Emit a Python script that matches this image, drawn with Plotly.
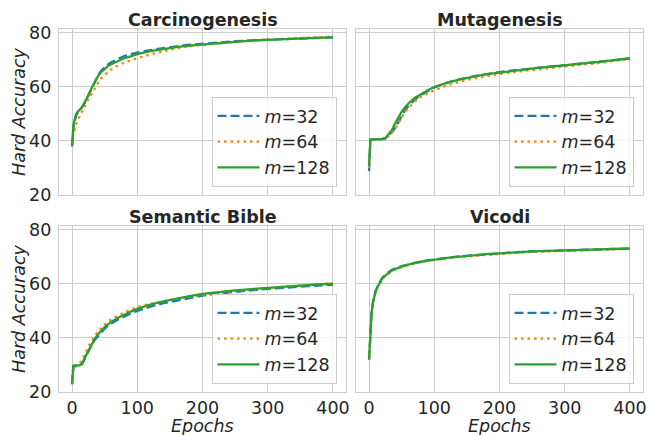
import plotly.graph_objects as go

epochs = [0, 1, 2, 3, 4, 6, 8, 10, 13, 16, 20, 25, 30, 35, 40, 45, 50, 55, 60, 70, 80, 90,
          100, 120, 140, 160, 180, 200, 225, 250, 275, 300, 325, 350, 375, 400]

titles = ["Carcinogenesis", "Mutagenesis", "Semantic Bible", "Vicodi"]
series_names = ["<i>m</i>=32", "<i>m</i>=64", "<i>m</i>=128"]
x_ticks = [0, 100, 200, 300, 400]
y_ticks = [20, 40, 60, 80]

carc_m32 = [38.0, 43.0, 44.5, 46.0, 47.3, 49.0, 50.2, 50.8, 51.6, 52.6, 54.3, 56.8, 59.5, 62.2, 64.3, 66.0,
            67.3, 68.2, 69.0, 70.3, 71.3, 72.0, 72.6, 73.5, 74.3, 74.9, 75.5, 75.9, 76.3, 76.8, 77.1, 77.4,
            77.6, 77.8, 78.0, 78.2]
carc_m64 = [39.0, 42.0, 42.8, 43.3, 44.5, 46.0, 47.3, 48.3, 49.6, 51.2, 53.0, 55.5, 57.3, 59.5, 61.5, 63.2,
            64.5, 65.5, 66.3, 67.8, 68.9, 69.8, 70.5, 71.9, 73.0, 74.2, 75.0, 75.5, 76.1, 76.6, 77.1, 77.4,
            77.7, 78.0, 78.2, 78.5]
carc_m128 = [38.0, 43.5, 45.5, 47.0, 48.2, 49.8, 50.6, 51.0, 51.8, 52.8, 54.5, 56.8, 59.5, 62.0, 64.0, 65.5,
             66.7, 67.6, 68.3, 69.5, 70.5, 71.2, 72.0, 73.1, 73.9, 74.6, 75.2, 75.6, 76.1, 76.6, 77.0, 77.3,
             77.6, 77.8, 78.0, 78.2]

muta_m32 = [28.8, 40.3, 40.4, 40.4, 40.4, 40.4, 40.4, 40.4, 40.5, 40.5, 40.6, 40.9, 42.0, 43.3, 44.8, 47.0,
            49.2, 51.3, 52.8, 55.2, 57.0, 58.5, 59.7, 61.5, 62.8, 63.8, 64.7, 65.4, 66.1, 66.8, 67.4, 67.9,
            68.5, 69.1, 69.7, 70.4]
muta_m64 = [30.0, 40.4, 40.4, 40.4, 40.4, 40.4, 40.4, 40.4, 40.5, 40.5, 40.6, 40.7, 41.8, 42.8, 44.5, 46.5,
            48.7, 50.6, 52.0, 54.5, 56.3, 57.6, 58.7, 60.5, 61.9, 63.0, 63.9, 64.7, 65.5, 66.2, 66.8, 67.5,
            68.1, 68.7, 69.4, 70.2]
muta_m128 = [30.7, 40.5, 40.5, 40.5, 40.5, 40.5, 40.5, 40.5, 40.6, 40.6, 40.7, 41.0, 42.5, 44.0, 46.5, 48.8,
             50.8, 52.3, 53.7, 55.8, 57.3, 58.7, 59.9, 61.5, 62.7, 63.7, 64.6, 65.2, 66.0, 66.7, 67.3, 67.8,
             68.5, 69.1, 69.7, 70.5]

sem_m32 = [22.8, 29.5, 29.5, 29.5, 29.5, 29.5, 29.5, 29.6, 29.8, 30.5, 32.5, 35.0, 37.3, 39.3, 40.8, 42.2,
           43.4, 44.4, 45.3, 46.7, 47.9, 49.0, 49.9, 51.5, 52.8, 53.8, 54.8, 55.6, 56.4, 57.0, 57.6, 58.1,
           58.5, 58.9, 59.3, 59.6]
sem_m64 = [23.0, 29.8, 29.8, 29.8, 29.8, 29.8, 29.8, 30.0, 31.0, 32.3, 34.0, 36.8, 39.0, 40.8, 42.3, 43.7,
           44.9, 46.0, 46.8, 48.2, 49.4, 50.5, 51.4, 52.6, 53.6, 54.5, 55.2, 55.9, 56.6, 57.3, 57.9, 58.4,
           58.9, 59.3, 59.7, 60.1]
sem_m128 = [23.0, 29.7, 29.7, 29.7, 29.7, 29.7, 29.7, 29.8, 30.0, 30.8, 32.8, 35.3, 37.8, 39.7, 41.3, 42.8,
            44.0, 45.0, 45.9, 47.3, 48.6, 49.7, 50.7, 52.3, 53.5, 54.5, 55.4, 56.2, 56.9, 57.5, 58.0, 58.5,
            58.9, 59.3, 59.7, 60.0]

vic_m32 = [32.0, 36.8, 42.3, 46.8, 49.8, 53.3, 55.8, 57.3, 59.0, 60.5, 62.0, 63.3, 64.3, 65.1, 65.6, 66.1,
           66.5, 66.8, 67.1, 67.7, 68.2, 68.6, 69.0, 69.6, 70.1, 70.5, 70.9, 71.2, 71.6, 71.9, 72.1, 72.3,
           72.5, 72.7, 72.8, 73.0]
vic_m64 = [31.8, 36.3, 41.8, 46.3, 49.3, 52.8, 55.3, 56.8, 58.6, 60.1, 61.6, 62.9, 63.9, 64.7, 65.3, 65.8,
           66.2, 66.6, 66.9, 67.5, 68.0, 68.4, 68.8, 69.4, 69.9, 70.3, 70.7, 71.0, 71.4, 71.7, 71.9, 72.1,
           72.3, 72.5, 72.7, 72.9]
vic_m128 = [32.0, 36.5, 42.0, 46.5, 49.5, 53.0, 55.5, 57.0, 58.8, 60.3, 61.8, 63.0, 64.0, 64.8, 65.4, 65.9,
            66.3, 66.7, 67.0, 67.6, 68.1, 68.5, 68.9, 69.5, 70.0, 70.5, 70.9, 71.2, 71.6, 71.9, 72.1, 72.3,
            72.5, 72.7, 72.8, 73.0]

panels = [
    [carc_m32, carc_m64, carc_m128],
    [muta_m32, muta_m64, muta_m128],
    [sem_m32, sem_m64, sem_m128],
    [vic_m32, vic_m64, vic_m128],
]

colors = ["#1f77b4", "#ff7f0e", "#2ca02c"]
dashes = ["9px,4px", "2.5px,4px", "solid"]

W, H = 649, 435
FONT = "DejaVu Sans"
FS = 17.5
TXT = "#262626"
GRID = "#cccccc"

# panel pixel boxes (left, right, top, bottom)
cols_px = [(59, 346), (356, 643)]
rows_px = [(29, 195), (226, 392)]

fig = go.Figure()
legend_ids = ["legend", "legend2", "legend3", "legend4"]
layout = {}
annotations = []

for i, vals in enumerate(panels):
    r, c = i // 2, i % 2
    k = i + 1
    xa = "x" if k == 1 else f"x{k}"
    ya = "y" if k == 1 else f"y{k}"
    xl, xr = cols_px[c]
    yt, yb = rows_px[r]
    for j, ys in enumerate(vals):
        fig.add_trace(go.Scatter(
            x=epochs, y=ys, mode="lines", name=series_names[j],
            line=dict(color=colors[j], width=2.3, dash=dashes[j]),
            xaxis=xa, yaxis=ya, legend=legend_ids[i],
        ))
    axis_common = dict(showgrid=True, gridcolor=GRID, gridwidth=1, zeroline=False,
                       showline=True, linecolor=GRID, linewidth=1.25, mirror=True,
                       ticks="", automargin=False,
                       tickfont=dict(family=FONT, size=FS, color=TXT))
    layout["xaxis" if k == 1 else f"xaxis{k}"] = dict(
        domain=[xl / W, xr / W], anchor=ya, range=[-20, 420], tickvals=x_ticks,
        showticklabels=(r == 1), ticklabelstandoff=0, **axis_common)
    layout["yaxis" if k == 1 else f"yaxis{k}"] = dict(
        domain=[(H - yb) / H, (H - yt) / H], anchor=xa, range=[20, 81.3], tickvals=y_ticks,
        showticklabels=(c == 0), ticklabelstandoff=3, **axis_common)
    # legend in lower right of panel
    layout[legend_ids[i]] = dict(
        x=(xr - 9.5) / W, y=(H - yb + 8) / H, xanchor="right", yanchor="bottom",
        xref="paper", yref="paper",
        bgcolor="rgba(255,255,255,0.8)", bordercolor=GRID, borderwidth=1,
        font=dict(family=FONT, size=FS, color=TXT), tracegroupgap=0, itemwidth=42,
    )
    # subplot title
    annotations.append(dict(text=f"<b>{titles[i]}</b>", x=(xl + xr) / 2 / W, y=(H - (yt - 9)) / H,
                            xref="paper", yref="paper", xanchor="center", yanchor="middle",
                            showarrow=False, font=dict(family=FONT, size=FS, color=TXT)))
    if c == 0:
        annotations.append(dict(text="<i>Hard Accuracy</i>", x=19 / W, y=(H - (yt + yb) / 2) / H,
                                xref="paper", yref="paper", xanchor="center", yanchor="middle",
                                textangle=-90, showarrow=False,
                                font=dict(family=FONT, size=FS, color=TXT)))
    if r == 1:
        annotations.append(dict(text="<i>Epochs</i>", x=(xl + xr) / 2 / W, y=(H - 426) / H,
                                xref="paper", yref="paper", xanchor="center", yanchor="middle",
                                showarrow=False, font=dict(family=FONT, size=FS, color=TXT)))

fig.update_layout(**layout)
fig.update_layout(
    annotations=annotations,
    width=W, height=H,
    margin=dict(l=0, r=0, t=0, b=0, autoexpand=False),
    paper_bgcolor="white", plot_bgcolor="white",
    font=dict(family=FONT, color=TXT),
)

fig.write_html("out.html", config={"displayModeBar": False},
               post_script="document.body.style.margin='0px';")
